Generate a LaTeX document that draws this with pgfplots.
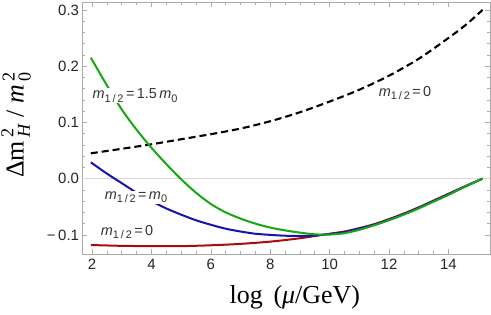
\documentclass[border=0pt]{standalone}
\usepackage{pgfplots}
\pgfplotsset{compat=1.18}
\usepackage{amsmath}
\usepackage{fontspec}
\setmainfont{Liberation Serif}
\setsansfont{Liberation Sans}
\definecolor{cgreen}{RGB}{20,168,20}
\definecolor{cblue}{RGB}{20,20,175}
\definecolor{cred}{RGB}{170,12,12}
\newcommand{\sub}[1]{\raisebox{-0.45ex}{\fontsize{11}{11}\selectfont #1}}
\newcommand{\mlab}[1]{\textit{m}\sub{1\,/\,2}\,=\,#1}
\begin{document}
\begin{tikzpicture}
\begin{axis}[
  scale only axis, width=407.5bp, height=252bp,
  xmin=1.68, xmax=15.4, ymin=-0.134, ymax=0.314,
  xtick={2,4,...,14}, xticklabels={2,4,6,8,10,12,14},
  ytick={-0.1,0,0.1,0.2,0.3}, yticklabels={−\,0.1,0.0,0.1,0.2,0.3},
  minor x tick num=3, minor y tick num=4,
  tick align=inside, tick pos=both,
  major tick length=5bp, minor tick length=2.7bp,
  axis line style={gray!65, line width=0.6bp},
  tick style={gray!65, line width=0.6bp},
  ticklabel style={font=\sffamily\fontsize{15}{15}\selectfont, text=black!85},
  xticklabel style={yshift=-2bp},
  xlabel={log\, (\textit{μ}/GeV)},
  xlabel style={font=\fontsize{26}{26}\selectfont, at={(axis description cs:0.521,-0.198)}, anchor=base},
  ylabel={$\text{Δm}^{\,\text{2}}_{\,\textit{H}}\;\text{/}\;\textit{m}^{\,\text{2}}_{\,\text{0}}$},
  ylabel style={font=\fontsize{26}{26}\selectfont, at={(axis description cs:-0.163,0.512)}, anchor=center},
]
\addplot[gray!30, line width=0.8bp, forget plot] coordinates {(1.68,0) (15.4,0)};
\addplot[black, line width=2.1bp, dash pattern=on 7bp off 4bp, smooth] coordinates {
(1.96,0.045) (3,0.053) (4,0.061) (5,0.070) (6,0.079) (7,0.089) (8,0.102) (9,0.118)
(10,0.137) (11,0.158) (12,0.183) (13,0.213) (14,0.250) (14.6,0.274) (15.15,0.300)};
\addplot[cred, line width=2bp, smooth] coordinates {
(1.96,-0.118) (3,-0.1195) (4,-0.120) (5,-0.120) (6,-0.1185) (7,-0.116) (8,-0.112) (9,-0.106)
(10,-0.098) (10.5,-0.094) (11,-0.088) (11.5,-0.081) (12,-0.072) (12.5,-0.062) (13,-0.051)
(13.5,-0.039) (14,-0.027) (14.5,-0.015) (15.15,0)};
\addplot[cblue, line width=2bp, smooth] coordinates {
(1.96,0.029) (2.5,0.009) (3,-0.008) (3.5,-0.025) (4,-0.040) (4.5,-0.053) (5,-0.064)
(5.5,-0.074) (6,-0.082) (6.5,-0.089) (7,-0.094) (7.5,-0.098) (8,-0.100) (8.5,-0.1015)
(9,-0.102) (9.5,-0.101) (10,-0.0985) (10.5,-0.095) (11,-0.089) (11.5,-0.082) (12,-0.073)
(12.5,-0.063) (13,-0.052) (13.5,-0.040) (14,-0.028) (14.5,-0.0155) (15.15,0)};
\addplot[cgreen, line width=2bp, smooth] coordinates {
(1.96,0.215) (2.5,0.166) (3,0.123) (3.5,0.087) (4,0.055) (4.5,0.026) (5,-0.001)
(5.5,-0.025) (6,-0.045) (6.5,-0.060) (7,-0.071) (7.5,-0.080) (8,-0.087) (8.5,-0.092)
(9,-0.096) (9.5,-0.099) (10,-0.0995) (10.5,-0.097) (11,-0.091) (11.5,-0.083) (12,-0.074)
(12.5,-0.064) (13,-0.053) (13.5,-0.041) (14,-0.029) (14.5,-0.016) (15.15,0)};
\node[font=\sffamily\fontsize{14.5}{14.5}\selectfont, text=black!80, fill=white, inner sep=1bp] at (axis cs:3.45,0.148) {\mlab{1.5\,\textit{m}\sub{0}}};
\node[font=\sffamily\fontsize{14.5}{14.5}\selectfont, text=black!80, inner sep=1bp] at (axis cs:12.54,0.152) {\mlab{0}};
\node[font=\sffamily\fontsize{14.5}{14.5}\selectfont, text=black!80, fill=white, inner sep=1bp] at (axis cs:3.48,-0.033) {\mlab{\textit{m}\sub{0}}};
\node[font=\sffamily\fontsize{14.5}{14.5}\selectfont, text=black!80, inner sep=1bp] at (axis cs:3.18,-0.095) {\mlab{0}};
\coordinate (sw) at (rel axis cs:0,0);
\coordinate (ne) at (rel axis cs:1,1);
\end{axis}
\pgfresetboundingbox
\path[use as bounding box] ([shift={(-82.5bp,-61bp)}]sw) rectangle ([shift={(1bp,2bp)}]ne);
\end{tikzpicture}
\end{document}
